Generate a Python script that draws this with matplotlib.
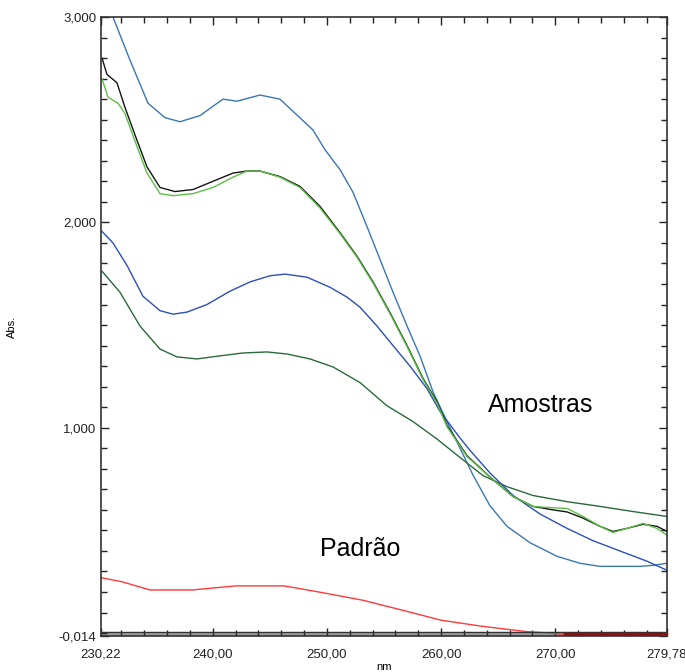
import matplotlib
matplotlib.use("Agg")
import matplotlib.pyplot as plt
from matplotlib.ticker import FixedLocator, MultipleLocator, FuncFormatter

# spectra (nm, Abs.)
blue_top_nm = [230.22, 231.27, 232.76, 234.34, 235.82, 237.14, 238.89, 240.90, 242.13, 244.14,
               245.89, 248.78, 249.83, 251.15, 252.29, 253.51, 254.65, 255.79, 257.02, 258.15,
               259.29, 260.52, 261.66, 262.79, 264.28, 265.77, 267.79, 270.15, 272.16, 273.91,
               277.42, 278.56, 279.78]
blue_top_abs = [3.15, 3.00, 2.79, 2.58, 2.51, 2.49, 2.52, 2.60, 2.59, 2.62,
                2.60, 2.45, 2.354, 2.257, 2.146, 1.98, 1.82, 1.66, 1.495, 1.35,
                1.175, 1.03, 0.90, 0.77, 0.62, 0.52, 0.44, 0.374, 0.34, 0.325,
                0.325, 0.33, 0.34]

black_nm = [230.31, 230.75, 231.62, 232.32, 233.37, 234.25, 235.39, 236.70, 238.28, 240.03,
            241.78, 243.00, 244.14, 245.89, 247.65, 249.40, 251.15, 252.64, 254.04, 255.53,
            257.02, 258.42, 259.64, 260.52, 262.27, 264.28, 266.30, 268.05, 269.80, 271.03,
            272.43, 273.91, 275.05, 276.28, 277.68, 278.91, 279.78]
black_abs = [2.80, 2.72, 2.68, 2.56, 2.40, 2.27, 2.17, 2.15, 2.16, 2.20,
             2.24, 2.25, 2.25, 2.223, 2.175, 2.078, 1.95, 1.835, 1.71, 1.56,
             1.40, 1.24, 1.126, 1.01, 0.864, 0.76, 0.665, 0.617, 0.60, 0.59,
             0.56, 0.52, 0.495, 0.51, 0.53, 0.52, 0.495]

green_nm = [230.31, 230.83, 231.71, 232.32, 233.37, 234.25, 235.39, 236.52, 238.28, 240.03,
            241.78, 243.00, 244.14, 245.89, 247.65, 249.40, 251.15, 252.64, 254.04, 255.53,
            257.02, 258.42, 259.64, 260.52, 262.27, 264.28, 266.30, 268.05, 269.80, 271.03,
            272.43, 273.91, 275.05, 276.28, 277.68, 278.91, 279.78]
green_abs = [2.70, 2.61, 2.58, 2.53, 2.37, 2.24, 2.14, 2.13, 2.14, 2.17,
             2.22, 2.25, 2.25, 2.22, 2.17, 2.07, 1.945, 1.83, 1.705, 1.555,
             1.395, 1.235, 1.12, 1.005, 0.86, 0.76, 0.665, 0.617, 0.61, 0.607,
             0.568, 0.52, 0.49, 0.51, 0.534, 0.51, 0.476]

blue_nm = [230.31, 231.27, 232.50, 233.90, 235.39, 236.52, 237.75, 239.50, 241.52, 243.27,
           245.02, 246.33, 248.26, 250.27, 251.76, 252.90, 254.39, 255.79, 257.28, 258.77,
           259.90, 261.66, 262.53, 264.28, 266.30, 268.66, 271.03, 273.30, 275.66, 278.03,
           279.78]
blue_abs = [1.956, 1.90, 1.79, 1.64, 1.57, 1.553, 1.563, 1.60, 1.665, 1.71,
            1.74, 1.748, 1.733, 1.684, 1.636, 1.587, 1.495, 1.40, 1.30, 1.19,
            1.08, 0.95, 0.89, 0.78, 0.67, 0.58, 0.51, 0.45, 0.40, 0.35,
            0.306]

dkgreen_nm = [230.31, 231.88, 233.64, 235.39, 236.87, 238.63, 240.64, 242.65, 244.76, 246.51,
              248.52, 250.54, 252.90, 255.26, 257.54, 259.64, 261.66, 263.67, 265.77, 268.05,
              271.03, 273.91, 276.80, 279.78]
dkgreen_abs = [1.762, 1.66, 1.495, 1.383, 1.345, 1.335, 1.35, 1.364, 1.369, 1.359,
               1.335, 1.296, 1.22, 1.107, 1.03, 0.945, 0.855, 0.767, 0.713, 0.67,
               0.64, 0.617, 0.592, 0.568]

red_nm = [230.22, 232.06, 234.51, 238.19, 240.11, 242.04, 244.67, 246.24, 249.31, 253.16,
          256.93, 259.99, 263.49, 267.35, 269.62, 270.85]
red_abs = [0.27, 0.25, 0.21, 0.21, 0.22, 0.23, 0.23, 0.23, 0.20, 0.16,
           0.107, 0.063, 0.034, 0.008, 0.0, -0.006]
red_tail_nm = [270.85, 279.78]
red_tail_abs = [-0.006, -0.006]

x_ticks = [230.22, 240.0, 250.0, 260.0, 270.0, 279.78]
y_ticks = [-0.014, 1.0, 2.0, 3.0]

plt.rcParams["font.family"] = ["Liberation Sans", "DejaVu Sans"]

fig = plt.figure(figsize=(6.85, 6.72), dpi=100)
ax = fig.add_axes([0.1474, 0.0536, 0.8263, 0.9211])

lw = 1.0
ax.plot(blue_top_nm, blue_top_abs, color="#3a76b4", lw=lw)
ax.plot(dkgreen_nm, dkgreen_abs, color="#2a6a3a", lw=lw)
ax.plot(blue_nm, blue_abs, color="#2c4fb8", lw=lw)
ax.plot(black_nm, black_abs, color="#151515", lw=lw)
ax.plot(green_nm, green_abs, color="#5cc043", lw=lw)
ax.plot(red_nm, red_abs, color="#ff3a3a", lw=lw)

# grey baseline band of the instrument plot
ax.axhspan(-0.014, 0.006, color="#9a9a9a", zorder=1)
ax.axhline(0.006, color="#333333", lw=0.9, zorder=2)
ax.plot(red_tail_nm, red_tail_abs, color="#8e0f0f", lw=2.5, zorder=3)

ax.set_xlim(230.22, 279.78)
ax.set_ylim(-0.014, 3.0)

ax.xaxis.set_major_locator(FixedLocator(x_ticks))
ax.xaxis.set_minor_locator(MultipleLocator(2))
ax.yaxis.set_major_locator(FixedLocator(y_ticks))
ax.yaxis.set_minor_locator(MultipleLocator(0.1))
ax.xaxis.set_major_formatter(FuncFormatter(lambda v, p: f"{v:.2f}".replace(".", ",")))
ax.yaxis.set_major_formatter(FuncFormatter(lambda v, p: f"{v:.3f}".replace(".", ",")))

ax.tick_params(which="both", direction="in", top=True, right=True, labelsize=9.5,
               colors="#222222", width=1.0)
ax.tick_params(which="major", length=6)
ax.tick_params(which="minor", length=4)
ax.tick_params(axis="x", pad=9)
for s in ax.spines.values():
    s.set_color("#333333")
    s.set_linewidth(1.2)

ax.set_xlabel("nm", fontsize=8, labelpad=1)
ax.set_ylabel("Abs.", fontsize=8, labelpad=30)

ax.text(268.7, 1.11, "Amostras", fontsize=18, ha="center", va="center")
ax.text(252.9, 0.41, "Padrão", fontsize=18, ha="center", va="center")

fig.savefig("out.png", dpi=100)
